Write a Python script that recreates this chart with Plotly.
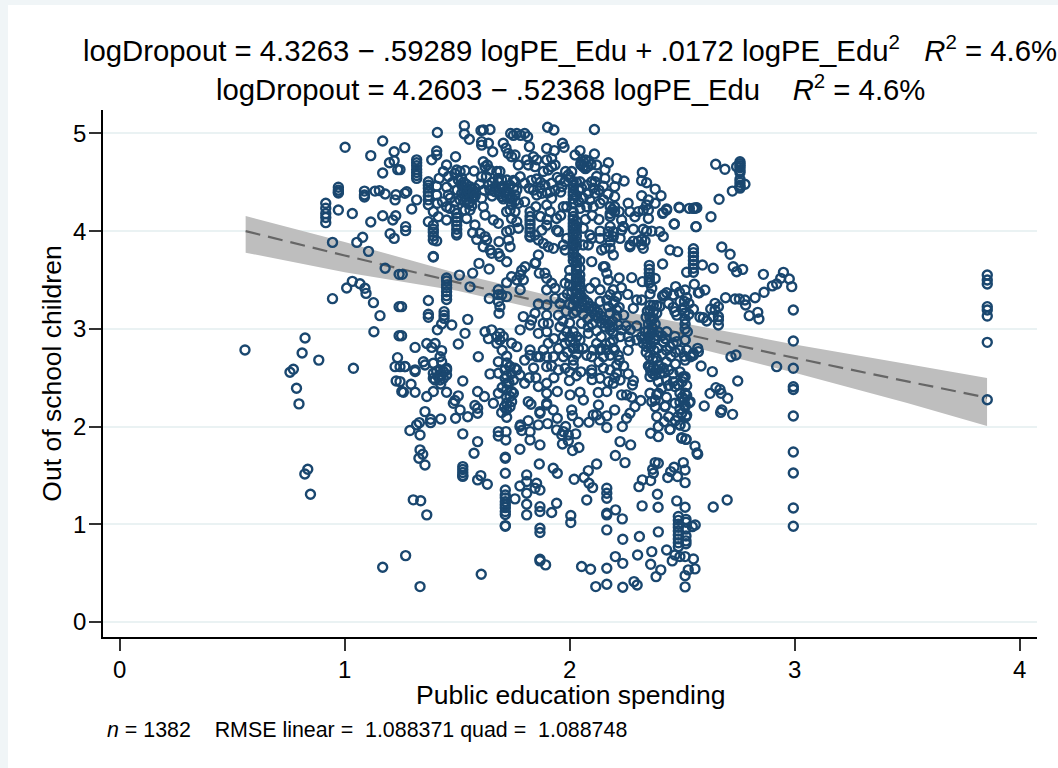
import plotly.graph_objects as go

# Vertical stacks of points: spending value -> dropout values
stacked = {
    0.972: [4.45, 4.42, 4.40, 4.39],
    1.088: [4.41, 4.37, 4.35],
    0.916: [4.285, 4.235, 4.18, 4.14, 4.087],
    1.32: [4.73, 4.70, 4.67, 4.63, 4.60, 4.57, 4.54],
    1.372: [4.506, 4.47, 4.44, 4.40, 4.36, 4.32, 4.27],
    1.498: [4.18, 4.14, 4.10, 4.06, 4.02, 3.98, 3.96],
    1.394: [4.06, 4.02, 3.99, 3.95, 3.91, 3.74, 3.735],
    1.824: [4.2, 4.15, 4.11, 4.07, 4.03, 3.99, 3.95, 3.94],
    2.016: [4.506, 4.47, 4.44, 4.40, 4.37, 4.33, 4.28, 4.2, 4.15, 4.12, 4.08, 4.05, 4.02, 3.98, 3.95, 3.91, 3.88, 3.85, 3.81, 3.78, 3.74, 3.70],
    2.03: [4.1, 4.05, 4.0, 3.95, 3.9, 3.85, 3.73, 3.68, 3.64, 3.6, 3.56, 3.52, 3.48, 3.44, 3.4, 3.36],
    2.045: [3.7, 3.62, 3.55, 3.5, 3.45, 3.4, 3.35],
    2.55: [3.82, 3.78, 3.74, 3.70, 3.66, 3.62, 3.58],
    2.354: [3.65, 3.61, 3.57, 3.53, 3.5, 3.47],
    2.513: [3.1, 3.05, 3.0, 2.886],
    1.453: [3.52, 3.49, 3.45, 3.42, 3.38, 3.34, 3.30],
    1.442: [3.176, 3.14, 3.107],
    1.525: [1.59, 1.56, 1.53, 1.50, 1.49],
    1.714: [1.686, 1.675, 1.522, 1.35, 1.30, 1.27, 1.23, 1.2, 1.17, 1.13, 1.1, 0.986, 0.98],
    2.165: [1.369, 1.317, 1.266, 1.113, 1.096, 0.942],
    2.483: [1.08, 1.04, 1.0, 0.97, 0.93, 0.89, 0.85, 0.81, 0.77],
    2.517: [1.05, 1.02, 0.95, 0.88, 0.83, 0.8],
    2.757: [4.71, 4.69, 4.67, 4.65, 4.62, 4.6, 4.53, 4.5, 4.47, 4.45, 4.44],
    2.994: [3.193, 2.875, 2.596, 2.408, 2.38, 2.108, 1.74, 1.525, 1.167, 0.98],
    3.856: [3.551, 3.5, 3.459, 3.227, 3.193, 3.131, 2.862, 2.275],
}

# Scattered points, (spending, dropout)
left_side = [
    (1.002,4.858),(1.169,4.923),(1.116,4.773),(1.22,4.813),(1.199,4.70),(1.22,4.72),(1.236,4.63),(1.169,4.595),
    (1.135,4.41),(1.154,4.415),(1.18,4.38),(1.228,4.373),(1.224,4.32),(0.972,4.216),(1.034,4.18),(1.116,4.094),
    (1.169,4.158),(1.214,4.114),(1.227,4.158),(1.202,3.974),(1.22,3.926),(1.08,3.937),(1.054,3.885),(0.946,3.885),
    (1.106,3.793),(1.18,3.62),(1.242,3.558),(1.034,3.486),(1.009,3.418),(1.068,3.462),(1.09,3.415),(1.095,3.363),
    (0.946,3.309),(1.128,3.268),(1.242,3.227),(1.157,3.135),(1.13,2.971),(1.242,2.93),(0.824,2.906),(0.557,2.784),
    (0.811,2.753),(0.885,2.68),(1.235,2.705),(1.039,2.596),(1.224,2.613),(0.772,2.586),(0.757,2.556),(0.786,2.392),
    (0.797,2.232),(0.836,1.563),(0.823,1.515),(0.848,1.307),(1.169,0.56),(1.229,2.467),(1.254,2.358),
]
upper_left_middle = [
    (1.267,4.855),(1.246,4.63),(1.387,4.73),(1.409,4.82),(1.409,4.78),(1.453,4.677),(1.493,4.762),(1.412,5.01),
    (1.532,5.08),(1.532,4.994),(1.554,4.94),(1.606,5.03),(1.616,5.035),(1.646,5.04),(1.609,4.916),(1.609,4.88),
    (1.639,4.90),(1.658,4.813),(1.705,4.90),(1.717,4.85),(1.727,4.796),(1.742,4.762),(1.757,4.78),(1.738,5.0),
    (1.75,4.98),(1.765,5.0),(1.782,4.98),(1.80,5.0),(1.813,4.967),(1.821,4.865),(1.902,5.063),(1.93,5.035),
    (2.11,5.04),(1.898,4.847),(1.932,4.824),(1.968,4.90),(1.975,4.858),(2.046,4.824),(2.024,4.78),(2.11,4.79),
    (1.409,4.46),(1.409,4.37),(1.412,4.285),(1.453,4.45),(1.461,4.37),(1.453,4.25),(1.439,4.61),(1.461,4.56),
    (1.49,4.59),(1.498,4.626),(1.513,4.61),(1.535,4.62),(1.575,4.616),(1.609,4.557),(1.616,4.71),(1.634,4.677),
    (1.646,4.626),(1.624,4.66),(1.676,4.61),(1.69,4.61),(1.683,4.54),(1.772,4.677),(1.78,4.557),(1.757,4.507),
    (1.809,4.73),(1.816,4.677),(1.839,4.762),(1.854,4.73),(1.846,4.66),(1.898,4.73),(1.92,4.745),(1.935,4.677),
    (1.905,4.626),(1.883,4.61),(1.92,4.66),(1.982,4.61),(2.009,4.61),(1.994,4.575),(1.853,4.534),
    (1.505,4.524),(1.52,4.54),(1.52,4.47),(1.527,4.42),(1.542,4.42),(1.55,4.37),(1.557,4.455),(1.565,4.387),
    (1.542,4.32),(1.557,4.30),(1.572,4.336),(1.535,4.353),(1.579,4.44),(1.52,4.387),(1.513,4.32),
    (1.639,4.47),(1.646,4.42),(1.668,4.455),(1.683,4.506),(1.698,4.524),(1.72,4.524),(1.735,4.47),(1.683,4.404),
    (1.698,4.353),(1.72,4.353),(1.735,4.336),(1.757,4.37),(1.75,4.44),(1.765,4.42),(1.668,4.404),(1.742,4.267),(1.772,4.285),
    (1.394,4.2),(1.416,4.148),(1.453,4.114),(1.372,4.097),(1.409,3.90),(1.271,4.046),(1.271,4.005),(1.32,4.32),
    (1.298,4.227),(1.276,4.404),(1.268,4.387),(1.542,4.13),(1.535,4.216),(1.557,4.216),(1.49,4.216),(1.468,4.233),
    (1.624,4.165),(1.661,4.114),(1.683,4.08),(1.616,4.25),(1.609,4.336),(1.579,4.063),(1.569,3.984),(1.587,3.916),
    (1.602,3.978),(1.624,3.944),(1.631,3.91),(1.616,3.84),(1.646,3.807),(1.653,3.773),(1.686,3.892),(1.683,3.773),
    (1.69,3.74),(1.72,3.687),(1.735,3.84),(1.728,3.91),(1.735,4.01),(1.765,4.097),(1.772,4.03),(1.72,3.995),
    (1.72,4.2),(1.735,4.216),(1.757,4.2),(1.742,4.13),(1.846,3.96),(1.876,4.01),(1.898,4.06),(1.942,4.13),
    (1.942,4.01),(1.95,3.995),(1.861,3.91),(1.883,3.875),(1.905,3.84),(1.928,3.824),(1.972,3.858),(1.987,3.926),
    (1.98,3.807),(1.861,3.756),(1.846,3.67),(1.839,4.42),(1.868,4.44),(1.854,4.37),(1.876,4.387),(1.913,4.404),
    (1.92,4.336),(1.935,4.42),(1.898,4.267),(1.913,4.2),(1.972,4.25),(1.987,4.25),
]
upper_right_middle = [
    (2.05,4.68),(2.06,4.715),(2.07,4.73),(2.085,4.715),(2.095,4.68),(2.07,4.64),(2.08,4.66),(2.06,4.66),(2.05,4.695),
    (2.12,4.677),(2.172,4.70),(2.157,4.63),(2.323,4.60),(2.32,4.517),(2.342,4.496),(2.38,4.43),(2.406,4.363),(2.32,4.363),
    (2.35,4.32),(2.342,4.267),(2.38,4.285),(2.488,4.24),(2.55,4.234),(2.565,4.24),(2.431,4.227),(2.416,4.19),(2.465,4.073),
    (2.562,4.046),(2.209,4.54),(2.242,4.513),(2.2,4.455),(2.2,4.353),(2.26,4.285),(2.268,4.2),(2.305,4.2),(2.29,4.148),
    (2.35,4.13),(2.327,4.216),(2.35,4.216),(2.18,4.15),(2.18,4.25),(2.19,4.22),(2.2,4.2),(2.18,4.18),(2.2,4.25),(2.22,4.2),
    (2.231,4.115),(2.238,4.046),(2.283,4.02),(2.327,4.02),(2.342,4.0),(2.365,4.0),(2.4,3.995),(2.416,3.945),(2.446,3.807),
    (2.48,3.79),(2.413,3.664),(2.305,3.898),(2.32,3.915),(2.335,3.898),(2.32,3.86),(2.327,3.824),(2.268,3.86),(2.283,3.898),(2.268,3.84),
    (2.046,4.233),(2.076,4.25),(2.105,4.25),(2.135,4.285),(1.957,4.524),(1.98,4.506),(1.965,4.455),(2.046,4.506),
    (2.053,4.44),(2.076,4.47),(2.098,4.506),(2.113,4.506),(2.113,4.387),(2.15,4.32),(2.157,4.54),(2.105,4.44),(2.083,4.387),
    (2.06,4.03),(2.06,3.858),(2.09,3.96),(2.098,3.926),(2.083,3.858),(2.135,4.0),(2.135,3.926),(2.142,3.807),(2.157,3.824),
    (2.194,3.756),(2.18,3.824),(2.18,4.046),(2.172,3.995),(2.194,3.995),(2.172,3.944),(2.194,3.944),(2.18,3.892),
    (2.224,3.926),(2.238,4.046),(2.231,4.01),(2.649,4.684),(2.69,4.633),(2.742,4.66),(2.779,4.48),(2.723,4.41),(2.664,4.326),
    (2.628,4.148),(2.56,4.237),(2.553,4.233),(2.532,4.233),(2.486,4.244),(2.431,4.216),(2.413,4.182),(2.561,4.046),(2.465,4.073),
    (2.676,3.838),(2.713,3.763),(2.727,3.636),(2.742,3.585),(2.769,3.609),(2.638,3.62),(2.59,3.653),(2.52,3.58),
]
central_band = [
    (1.256,3.558),(1.253,3.227),(1.253,2.93),(1.51,3.55),(1.557,3.43),(1.569,3.57),(1.597,3.67),(1.642,3.612),(1.372,3.29),
    (1.372,3.15),(1.372,3.118),(1.431,3.05),(1.476,3.04),(1.412,2.99),(1.547,3.097),(1.535,2.954),(1.505,2.845),(1.313,2.81),
    (1.594,2.715),(1.365,2.85),(1.387,2.81),(1.402,2.85),(1.431,2.777),(1.424,2.715),(1.35,2.664),(1.313,2.58),(1.268,2.613),
    (1.246,2.613),(1.431,2.664),(1.453,2.596),(1.624,2.97),(1.653,2.99),(1.639,2.9),(1.676,2.92),(1.69,2.954),(1.705,2.92),
    (1.676,2.852),(1.69,2.886),(1.742,2.852),(1.765,2.818),(1.683,2.664),(1.735,2.613),(1.757,2.596),(1.8,2.68),(1.824,2.783),
    (1.824,2.73),(1.72,3.473),(1.742,3.534),(1.78,3.55),(1.765,3.5),(1.787,3.6),(1.802,3.636),(1.794,3.5),(1.78,3.4),(1.683,3.4),
    (1.683,3.35),(1.698,3.35),(1.72,3.33),(1.683,3.28),(1.643,3.31),(1.69,3.227),(1.686,3.16),(1.849,3.677),(1.865,3.57),
    (1.89,3.57),(1.898,3.517),(1.92,3.466),(1.935,3.415),(1.898,3.4),(1.935,3.312),(1.957,3.26),(1.98,3.466),(1.861,3.254),
    (1.898,3.244),(1.846,3.16),(1.794,3.125),(1.831,3.09),(1.824,3.04),(1.898,3.14),(1.883,3.056),(1.905,3.056),(1.78,2.99),
    (1.861,2.954),(1.898,2.97),(1.957,3.02),(1.905,2.852),(1.883,2.783),
    (2.039,3.31),(2.053,3.28),(2.068,3.24),(2.083,3.21),(2.098,3.18),(2.113,3.14),(2.127,3.11),(2.142,3.06),(2.157,3.02),(2.18,2.99),
    (2.05,3.34),(2.065,3.3),(2.08,3.27),(2.095,3.23),(2.11,3.2),(2.125,3.17),(2.14,3.13),(2.155,3.09),(2.17,3.05),(2.19,3.02),
    (2.194,3.4),(2.18,3.35),(2.209,3.33),(2.165,3.295),(2.194,3.26),(2.172,3.227),(2.209,3.193),(2.18,3.16),(2.209,3.125),(2.165,3.57),
    (2.157,3.636),(2.172,3.5),(2.135,3.4),(2.135,3.28),(2.113,3.473),(2.09,3.415),(2.098,3.688),(2.15,3.636),
    (1.972,2.92),(1.987,2.97),(2.002,2.92),(2.016,2.97),(2.031,2.92),(1.98,2.852),(2.002,2.869),(2.024,2.852),(2.046,2.886),
    (2.083,3.02),(2.083,2.954),(2.016,2.8),(2.039,2.8),(2.053,3.056),(2.016,3.16),(2.135,2.784),(2.105,2.784),(2.165,2.784),
    (2.194,2.8),(2.18,2.73),(2.216,2.73),(2.15,2.715),(2.098,2.715),(2.076,2.73),(2.194,2.954),(2.224,2.92),(2.194,2.886),
    (2.26,2.92),(2.268,2.869),(2.298,2.886),(1.972,2.715),(2.016,2.68),(1.928,2.715),(1.898,2.715),(1.868,2.715),(1.854,2.715),
    (2.276,3.524),(2.323,3.483),(2.38,3.516),(2.554,3.456),(2.513,3.398),(2.471,3.432),(2.488,3.374),(2.461,3.347),(2.431,3.37),
    (2.413,3.336),(2.572,3.37),(2.365,3.415),(2.357,3.357),(2.258,3.353),(2.298,3.295),(2.32,3.295),(2.283,3.21),
    (2.357,3.24),(2.372,3.24),(2.387,3.24),(2.4,3.23),(2.357,3.19),(2.372,3.175),(2.357,3.12),(2.372,3.107),(2.35,3.05),(2.365,3.02),(2.387,3.16),
    (2.468,3.176),(2.476,3.14),(2.579,3.12),(2.298,3.03),(2.32,2.92),(2.335,2.97),(2.35,2.92),(2.327,2.852),(2.342,2.818),(2.357,2.886),
    (2.365,2.954),(2.38,2.9),(2.394,2.97),(2.431,2.97),(2.416,2.869),(2.446,2.818),(2.468,2.92),(2.476,2.869),(2.513,2.886),(2.46,2.852),
    (2.52,2.784),(2.55,2.73),(2.572,2.767),(2.523,2.97),(2.601,3.398),(2.576,3.37),(2.42,3.35),
    (2.861,3.558),(2.95,3.578),(2.976,3.51),(2.987,3.432),(2.938,3.517),(2.92,3.459),(2.901,3.44),(2.864,3.374),(2.824,3.319),
    (2.693,3.319),(2.735,3.305),(2.754,3.305),(2.779,3.295),(2.782,3.244),(2.798,3.135),(2.836,3.169),(2.841,3.101),
    (2.646,3.261),(2.627,3.203),(2.661,3.227),(2.646,3.193),(2.661,3.125),(2.638,3.125),(2.661,3.09),(2.661,3.04),(2.594,3.114),(2.609,3.08),
    (2.92,2.613),(2.739,2.732),(2.717,2.715),(2.569,2.8),(2.55,2.75),(2.538,2.715),(2.513,2.68),(2.584,2.62),(2.634,2.562),(2.747,2.466),
    (2.505,2.494),(2.513,2.51),(2.65,2.398),(2.668,2.38),(2.673,2.34),(2.624,2.34),(2.702,2.289),(2.598,2.21),(2.676,2.17),(2.671,2.145),(2.724,2.125),
    (2.532,2.244),(2.513,2.22),(2.517,2.1),(2.498,2.135),(2.513,2.0),(2.49,2.016),(2.446,1.97),(2.424,2.21),(2.517,1.869),(2.498,1.88),(2.557,1.8),
]
lower_half = [
    (1.268,2.614),(1.313,2.563),(1.357,2.63),(1.394,2.648),(1.394,2.545),(1.409,2.563),(1.424,2.58),(1.439,2.563),(1.453,2.58),
    (1.394,2.494),(1.416,2.511),(1.431,2.528),(1.453,2.528),(1.402,2.477),(1.424,2.477),(1.439,2.494),(1.261,2.351),(1.313,2.351),
    (1.246,2.46),(1.295,2.433),(1.365,2.307),(1.394,2.358),(1.453,2.351),(1.427,2.436),(1.525,2.467),(1.505,2.314),(1.49,2.266),
    (1.483,2.238),(1.591,2.358),(1.621,2.307),(1.661,2.238),(1.357,2.153),(1.382,2.075),(1.382,2.04),(1.427,2.078),(1.493,2.085),
    (1.513,2.17),(1.547,2.1),(1.579,2.215),(1.591,2.187),(1.591,2.136),(1.332,2.04),(1.32,2.017),(1.29,1.959),(1.335,1.914),
    (1.525,1.925),(1.591,1.846),(1.575,1.727),(1.335,1.761),(1.347,1.717),(1.33,1.676),(1.357,1.607),(1.591,1.454),(1.605,1.498),
    (1.634,1.41),(1.305,1.25),(1.338,1.24),(1.365,1.096),(1.271,0.679),(1.335,0.362),(1.607,0.488),(1.646,2.539),(1.683,2.546),
    (1.713,2.58),(1.735,2.614),(1.765,2.58),(1.713,2.495),(1.72,2.443),(1.75,2.477),(1.779,2.528),(1.8,2.443),(1.742,2.358),(1.75,2.341),
    (1.735,2.307),(1.742,2.255),(1.735,2.204),(1.72,2.17),(1.698,2.143),(1.72,2.095),(1.683,2.341),(1.72,2.375),(1.683,1.948),(1.683,1.904),
    (1.717,1.948),(1.716,1.863),(1.779,1.768),(1.757,1.26),(1.779,1.392),(1.809,1.505),(1.809,1.437),(1.809,1.317),(1.853,1.42),(1.868,1.35),
    (1.846,1.368),(1.809,1.205),(1.809,1.096),(1.865,1.617),(1.927,1.573),(1.945,1.522),(2.02,1.46),(1.868,1.812),(1.824,1.863),(1.824,1.948),
    (1.782,2.017),(1.787,1.959),(1.816,2.06),(1.779,2.0),(1.868,2.136),(1.861,2.017),(1.902,2.03),(1.868,2.153),(1.927,2.17),(1.945,2.085),
    (1.898,2.22),(1.816,2.255),(1.828,2.228),(1.942,1.966),(1.972,1.948),(1.982,2.0),(1.965,1.914),(1.994,1.914),(2.027,1.925),(1.968,1.822),
    (1.994,1.853),(2.041,1.785),(2.013,1.754),(2.039,2.044),(2.009,2.17),(2.012,2.112),(2.086,2.044),(2.12,2.119),(2.135,2.068),(2.105,2.119),
    (2.165,2.109),(2.165,1.99),(2.2,2.17),(2.128,2.221),(1.868,1.18),(1.868,1.13),(1.868,0.959),(1.868,0.915),(1.92,1.12),(1.942,1.215),
    (1.868,0.642),(1.868,0.625),(1.893,0.584),(2.005,1.089),(2.005,1.017),(2.076,1.249),(2.064,1.48),(2.083,1.549),(2.12,1.617),(2.086,1.42),
    (2.102,1.375),(2.053,0.567),(2.093,0.54),(2.116,0.362),(2.165,0.55),(2.165,0.386),(2.236,0.355),(2.286,0.413),(2.3,0.379),(2.204,1.147),
    (2.234,1.055),(2.236,0.846),(2.203,1.703),(2.246,1.631),(2.224,1.846),(2.271,1.812),(2.234,2.0),(2.203,0.669),(2.236,0.6),(2.302,0.686),
    (2.365,0.72),(2.36,0.59),(2.405,0.533),(2.384,0.464),(2.31,0.874),(2.394,0.922),(2.322,1.188),(2.39,1.307),(2.393,1.174),(2.308,1.385),
    (2.323,1.454),(2.36,1.447),(2.372,1.522),(2.369,1.563),(2.38,1.631),(2.394,1.624),(2.436,1.478),(2.449,1.539),(2.464,1.583),(2.479,1.488),
    (2.505,1.631),(2.513,1.556),(2.513,1.426),(2.476,1.239),(2.513,1.174),(2.545,0.976),(2.431,0.737),(2.456,0.625),(2.468,0.686),(2.513,0.669),
    (2.49,0.669),(2.55,0.645),(2.557,0.543),(2.527,0.533),(2.513,0.474),(2.513,0.359),
    (2.357,2.61),(2.372,2.61),(2.394,2.63),(2.416,2.6),(2.357,2.511),(2.38,2.528),(2.402,2.546),(2.431,2.477),(2.394,2.46),(2.483,2.426),(2.505,2.511),
    (2.357,2.341),(2.387,2.324),(2.38,2.272),(2.365,2.255),(2.394,2.341),(2.409,2.392),(2.468,2.409),(2.49,2.341),(2.513,2.341),(2.535,2.255),
    (2.468,2.238),(2.424,2.204),(2.38,2.204),(2.513,2.204),(2.498,2.136),(2.52,2.119),(2.49,2.017),(2.387,2.102),(2.394,2.0),(2.36,1.931),
    (2.394,1.897),(2.446,1.972),(2.498,1.887),(2.517,1.87),(2.569,1.716),(2.098,2.58),(2.098,2.546),(2.135,2.494),(2.172,2.46),(2.194,2.443),
    (2.165,2.358),(2.209,2.63),(2.209,2.546),(2.224,2.477),(2.26,2.539),(2.283,2.47),(2.279,2.426),(1.999,2.47),(2.002,2.324),(2.046,2.351),
    (2.061,2.272),(2.127,2.348),(2.231,2.324),(2.253,2.324),(2.276,2.3),(2.316,2.266),(2.29,2.204),(2.268,2.136),(2.253,2.085),(1.898,2.341),
    (1.898,2.443),(1.861,2.41),(1.945,2.358),(1.898,2.238),(1.898,2.614),(1.98,2.597),(2.016,2.63),(2.7,1.249),(2.638,1.177),(2.558,0.993),(2.566,1.73),
]
dense_clusters = [
    (1.535,4.44),(1.542,4.39),(1.55,4.41),(1.558,4.43),(1.565,4.34),(1.572,4.4),(1.58,4.36),(1.535,4.3),(1.55,4.28),(1.565,4.26),(1.528,4.5),(1.54,4.48),
    (1.69,4.44),(1.705,4.46),(1.712,4.39),(1.72,4.42),(1.73,4.38),(1.745,4.33),(1.758,4.31),(1.705,4.33),(1.69,4.38),(1.75,4.52),
    (1.6,4.48),(1.62,4.42),(1.63,4.56),(1.655,4.5),(1.655,4.36),(1.8,4.49),(1.82,4.44),(1.83,4.52),(1.87,4.5),(1.89,4.47),(1.9,4.39),(1.92,4.49),(1.945,4.55),(1.96,4.4),
    (1.5,4.42),(1.48,4.5),(1.47,4.34),(1.49,4.3),(1.42,4.54),(1.435,4.3),(1.8,4.3),(1.85,4.25),(1.87,4.15),(1.96,4.16),(1.9,4.12),
    (2.0,4.55),(2.03,4.5),(2.04,4.42),(2.03,4.36),(2.04,4.3),(2.06,4.34),(2.09,4.32),(2.12,4.56),(2.13,4.42),(2.15,4.46),(2.17,4.38),(2.13,4.12),(2.1,4.16),(2.07,4.12),
    (2.0,3.6),(2.0,3.52),(2.0,3.45),(2.01,3.38),(2.02,3.3),(1.99,3.36),(1.97,3.32),(2.0,3.25),(2.05,3.22),(2.03,3.18),(2.06,3.15),(2.08,3.1),
    (2.03,3.32),(2.03,3.28),(2.015,3.24),(1.985,3.18),(1.95,3.14),(1.97,3.08),(2.0,3.06),(2.1,3.05),(2.12,2.98),(2.14,2.92),
    (2.2,3.28),(2.22,3.22),(2.23,3.42),(2.22,3.52),(2.24,3.14),(2.19,3.08),(2.215,3.04),(2.23,2.99),(2.25,3.03),(2.27,2.99),
    (2.34,3.12),(2.345,3.18),(2.36,3.08),(2.37,3.0),(2.38,3.05),(2.39,2.93),(2.35,2.98),(2.33,2.9),(2.345,2.86),(2.36,2.82),(2.375,2.78),(2.39,2.8),(2.41,2.93),(2.425,2.9),
    (2.34,2.76),(2.355,2.72),(2.37,2.68),(2.385,2.7),(2.41,2.74),(2.43,2.78),(2.45,2.72),(2.47,2.76),(2.49,2.78),(2.51,2.72),(2.43,2.66),(2.47,2.64),
    (2.35,2.62),(2.36,2.57),(2.37,2.54),(2.39,2.58),(2.42,2.55),(2.44,2.58),(2.46,2.54),(2.49,2.56),(2.5,2.46),(2.52,2.42),(2.46,2.46),(2.44,2.42),
    (2.12,2.85),(2.14,2.8),(2.16,2.84),(2.18,2.86),(2.2,2.78),(2.22,2.68),(2.24,2.62),(2.26,2.78),(2.13,2.66),(2.15,2.6),(2.18,2.58),(2.2,2.5),(2.1,2.48),(2.05,2.56),
    (1.95,2.8),(1.93,2.9),(1.99,2.76),(2.03,2.74),(2.06,2.8),(1.92,2.62),(1.95,2.58),(2.0,2.56),(2.03,2.52),(1.85,2.5),(1.84,2.6),(1.82,2.5),(1.93,2.5),
    (1.72,2.72),(1.7,2.78),(1.72,2.65),(1.74,2.54),(1.7,2.4),(1.72,2.3),(1.72,2.24),(1.71,2.2),(1.72,2.52),(1.73,2.45),
    (2.52,3.32),(2.53,3.26),(2.5,3.2),(2.49,3.28),(2.44,3.26),(2.46,3.22),(2.55,3.2),(2.53,3.15),(2.51,3.16),(2.51,3.22),(2.51,3.28),
    (2.5,2.3),(2.49,2.25),(2.51,2.28),(2.52,2.32),(2.49,2.18),(2.48,2.1),(2.47,2.06),(2.44,2.1),(2.42,2.05),(2.43,2.3),
]

fit_x = [0.56, 1.0, 1.5, 2.0, 2.5, 3.0, 3.5, 3.855]
fit_y = [4.0, 3.7506, 3.4757, 3.2093, 2.9516, 2.7024, 2.4619, 2.2963]
ci_low = [3.78, 3.58, 3.39, 3.13, 2.84, 2.55, 2.24, 2.006]
ci_high = [4.155, 3.89, 3.57, 3.29, 3.06, 2.84, 2.64, 2.497]

y_ticks = [0, 1, 2, 3, 4, 5]
x_ticks = [0, 1, 2, 3, 4]

title_line_1 = "logDropout = 4.3263 − .59289 logPE_Edu + .0172 logPE_Edu<sup>2</sup>   <i>R</i><sup>2</sup> = 4.6%"
title_line_2 = "logDropout = 4.2603 − .52368 logPE_Edu    <i>R</i><sup>2</sup> = 4.6%"
note_text = "<i>n</i> = 1382    RMSE linear =  1.088371 quad =  1.088748"
x_title = "Public education spending"
y_title = "Out of school children"

NAVY = "#1a476f"
FONT = "Liberation Sans"
STRIP = "#f0f5f7"

spending, dropout = [], []
for xv, ys in stacked.items():
    for yv in ys:
        spending.append(xv)
        dropout.append(yv)
for group in (left_side, upper_left_middle, upper_right_middle, central_band, lower_half, dense_clusters):
    for xv, yv in group:
        spending.append(xv)
        dropout.append(yv)

fig = go.Figure()
fig.add_trace(go.Scatter(x=fit_x + fit_x[::-1], y=ci_high + ci_low[::-1], mode="lines", fill="toself",
                         fillcolor="#bebebe", line=dict(width=0), hoverinfo="skip", showlegend=False))
fig.add_trace(go.Scatter(x=fit_x, y=fit_y, mode="lines", line=dict(color="#666666", width=2.2, dash="15px,8px"),
                         showlegend=False))
fig.add_trace(go.Scatter(x=spending, y=dropout, mode="markers",
                         marker=dict(symbol="circle-open", size=9, color=NAVY, line=dict(width=2.4, color=NAVY)),
                         showlegend=False))

plot_w, plot_h = 934, 527
fig.update_layout(
    width=1058, height=768, autosize=False,
    margin=dict(l=103, r=21, t=110, b=131),
    paper_bgcolor="white", plot_bgcolor="white",
    font=dict(family=FONT, color="black", size=24),
    xaxis=dict(range=[-0.074, 4.077], tickvals=x_ticks, showgrid=False, zeroline=False, showline=True,
               linecolor="black", linewidth=1.5, ticks="outside", ticklen=12, tickwidth=1.5, tickcolor="#333333",
               tickfont=dict(size=24, family=FONT), ticklabelstandoff=-2),
    yaxis=dict(range=[-0.154, 5.24], tickvals=y_ticks, showgrid=True, gridcolor="#eaf2f3", gridwidth=2, zeroline=False,
               showline=True, linecolor="black", linewidth=1.5, ticks="outside", ticklen=12, tickwidth=1.5, tickcolor="#333333",
               tickfont=dict(size=24, family=FONT), ticklabelstandoff=-2,
               title=dict(text=y_title, font=dict(size=26.5, family=FONT), standoff=4)),
    shapes=[
        dict(type="rect", xref="paper", yref="paper", x0=-103/plot_w, x1=-95/plot_w, y0=-131/plot_h, y1=1+110/plot_h,
             fillcolor=STRIP, line=dict(width=0), layer="below"),
        dict(type="rect", xref="paper", yref="paper", x0=-103/plot_w, x1=1+21/plot_w, y0=1+105/plot_h, y1=1+110/plot_h,
             fillcolor=STRIP, line=dict(width=0), layer="below"),
    ],
    annotations=[
        dict(text=title_line_1, xref="paper", yref="paper", x=0.5, y=1.0, yshift=62, showarrow=False,
             font=dict(size=29.3, family=FONT), xanchor="center", yanchor="middle"),
        dict(text=title_line_2, xref="paper", yref="paper", x=0.5, y=1.0, yshift=23, showarrow=False,
             font=dict(size=29.3, family=FONT), xanchor="center", yanchor="middle"),
        dict(text=x_title, xref="paper", yref="paper", x=0.5, y=0.0, yshift=-58, showarrow=False,
             font=dict(size=26.5, family=FONT), xanchor="center", yanchor="middle"),
        dict(text=note_text, xref="paper", yref="paper", x=0.0, y=0.0, xshift=2, yshift=-93, showarrow=False,
             font=dict(size=21.4, family=FONT), xanchor="left", yanchor="middle"),
    ],
)
fig.write_html("out.html", config={"displayModeBar": False}, post_script="document.body.style.margin='0';")
